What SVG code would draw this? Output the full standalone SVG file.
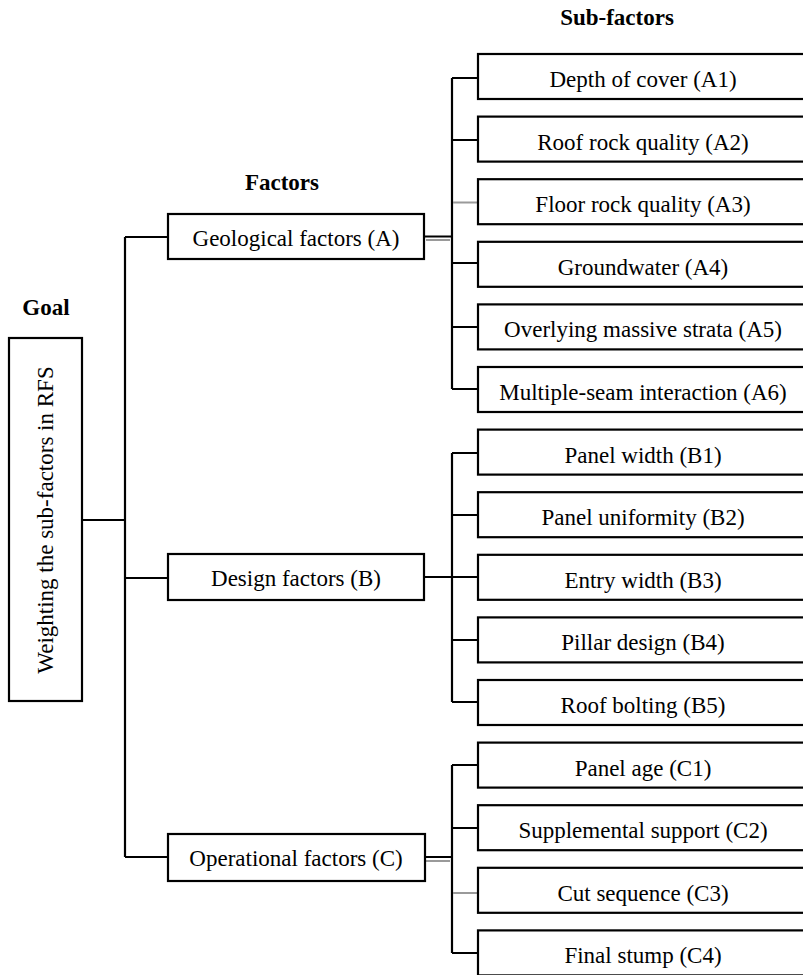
<svg xmlns="http://www.w3.org/2000/svg" width="803" height="975" viewBox="0 0 803 975">
<style>
.box{fill:#fff;stroke:#000;stroke-width:2.2}
text{font-family:'Liberation Serif','Times New Roman',Tinos,'DejaVu Serif',serif;font-size:23px;fill:#000;text-anchor:middle}
.h{font-weight:bold}
.c{fill:none;stroke:#000;stroke-width:2.2}
.g{fill:none;stroke:#9a9a9a;stroke-width:2.2}
</style>
<rect width="803" height="975" fill="#fff"/>
<g id="headers">
<text class="h" x="46" y="315">Goal</text>
<text class="h" x="282" y="190">Factors</text>
<text class="h" x="617" y="25">Sub-factors</text>
</g>
<g id="connectors">
<path class="c" d="M82,520 H125 M125,237 V857 M125,237 H168 M125,578 H168 M125,857 H168"/>
<path class="c" d="M424,236.5 H452 M452,78 V389 M452,78 H478 M452,140 H478 M452,263 H478 M452,327 H478 M452,389 H478"/>
<path class="g" d="M426,240 H450 M453,202.5 H477"/>
<path class="c" d="M424,577 H478 M452,453 V702 M452,453 H478 M452,515 H478 M452,640 H478 M452,702 H478"/>
<path class="c" d="M424,857 H452 M452,765 V953 M452,765 H478 M452,828 H478 M452,953 H478"/>
<path class="g" d="M426,861 H450 M453,893 H477"/>
</g>
<g id="goal">
<rect class="box" x="9" y="338" width="73" height="363"/>
<text transform="translate(53,520) rotate(-90)">Weighting the sub-factors in RFS</text>
</g>
<g id="factorA">
<rect class="box" x="168" y="214" width="256" height="45"/>
<text x="296" y="246">Geological factors (A)</text>
</g>
<g id="factorB">
<rect class="box" x="168" y="554" width="256" height="46"/>
<text x="296" y="586">Design factors (B)</text>
</g>
<g id="factorC">
<rect class="box" x="168" y="834" width="257" height="47"/>
<text x="296" y="866">Operational factors (C)</text>
</g>
<g id="A1"><rect class="box" x="478" y="54" width="340" height="45"/><text x="643" y="87">Depth of cover (A1)</text></g>
<g id="A2"><rect class="box" x="478" y="116.6" width="340" height="45"/><text x="643" y="149.6">Roof rock quality (A2)</text></g>
<g id="A3"><rect class="box" x="478" y="179.2" width="340" height="45"/><text x="643" y="212.2">Floor rock quality (A3)</text></g>
<g id="A4"><rect class="box" x="478" y="241.8" width="340" height="45"/><text x="643" y="274.8">Groundwater (A4)</text></g>
<g id="A5"><rect class="box" x="478" y="304.4" width="340" height="45"/><text x="643" y="337.4">Overlying massive strata (A5)</text></g>
<g id="A6"><rect class="box" x="478" y="367" width="340" height="45"/><text x="643" y="400">Multiple-seam interaction (A6)</text></g>
<g id="B1"><rect class="box" x="478" y="429.6" width="340" height="45"/><text x="643" y="462.6">Panel width (B1)</text></g>
<g id="B2"><rect class="box" x="478" y="492.2" width="340" height="45"/><text x="643" y="525.2">Panel uniformity (B2)</text></g>
<g id="B3"><rect class="box" x="478" y="554.8" width="340" height="45"/><text x="643" y="587.8">Entry width (B3)</text></g>
<g id="B4"><rect class="box" x="478" y="617.4" width="340" height="45"/><text x="643" y="650.4">Pillar design (B4)</text></g>
<g id="B5"><rect class="box" x="478" y="680" width="340" height="45"/><text x="643" y="713">Roof bolting (B5)</text></g>
<g id="C1"><rect class="box" x="478" y="742.6" width="340" height="45"/><text x="643" y="775.6">Panel age (C1)</text></g>
<g id="C2"><rect class="box" x="478" y="805.2" width="340" height="45"/><text x="643" y="838.2">Supplemental support (C2)</text></g>
<g id="C3"><rect class="box" x="478" y="867.8" width="340" height="45"/><text x="643" y="900.8">Cut sequence (C3)</text></g>
<g id="C4"><rect class="box" x="478" y="930.4" width="340" height="45"/><text x="643" y="963.4">Final stump (C4)</text></g>
</svg>
